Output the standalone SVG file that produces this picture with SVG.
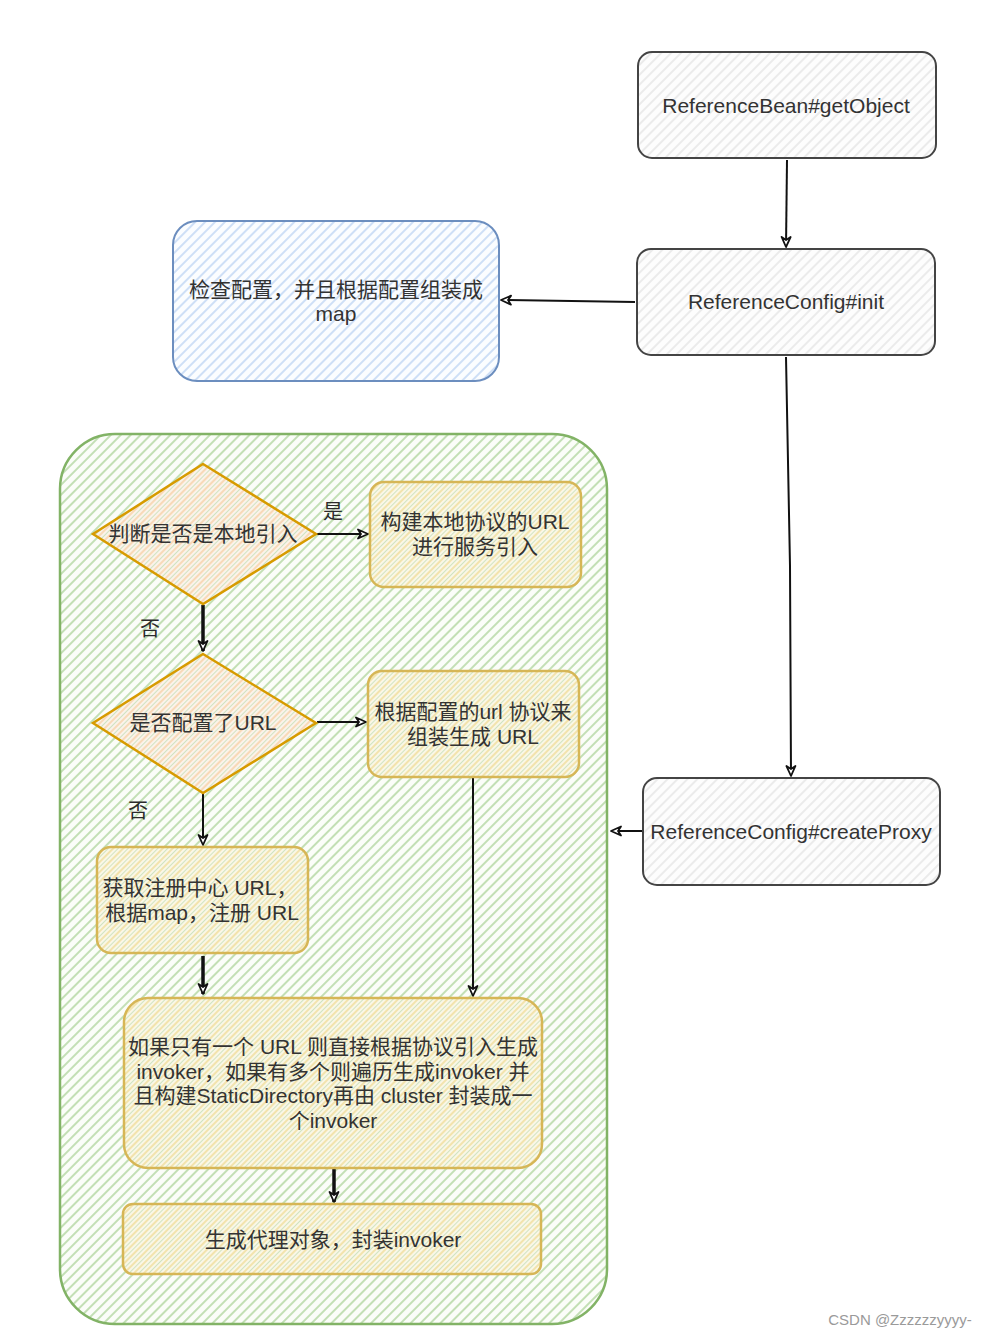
<svg xmlns="http://www.w3.org/2000/svg" width="984" height="1338" viewBox="0 0 984 1338">
<defs>
<style>
.t{font-family:"Liberation Sans","Noto Sans CJK SC",sans-serif;font-size:21px;fill:#333333;text-anchor:middle}
.gray{fill:url(#hGray);stroke:#444444;stroke-width:2}
.blue{fill:url(#hBlue);stroke:#6c8ebf;stroke-width:2}
.green{fill:url(#hGreen);stroke:#82b366;stroke-width:2.5}
.yel{fill:url(#hYel);stroke:#d6b656;stroke-width:2.5}
.dia{fill:url(#hOr);stroke:#d79b00;stroke-width:2.5}
.c{fill:none;stroke:#111;stroke-width:2;marker-end:url(#arr)}
.c3{fill:none;stroke:#111;stroke-width:3.5;marker-end:url(#arr)}
.lbl{font-family:"Noto Sans CJK SC","Liberation Sans",sans-serif;font-size:20px;fill:#2b2b2b;text-anchor:middle}
</style>
<pattern id="hGray" width="7" height="7" patternUnits="userSpaceOnUse" patternTransform="rotate(45)"><rect width="7" height="7" fill="#fdfdfd"/><line x1="1" y1="0" x2="1" y2="7" stroke="#e2e2e2" stroke-width="1.3"/></pattern>
<pattern id="hBlue" width="7" height="7" patternUnits="userSpaceOnUse" patternTransform="rotate(45)"><rect width="7" height="7" fill="#fbfdff"/><line x1="1" y1="0" x2="1" y2="7" stroke="#c9dcf5" stroke-width="1.8"/></pattern>
<pattern id="hGreen" width="7" height="7" patternUnits="userSpaceOnUse" patternTransform="rotate(45)"><rect width="7" height="7" fill="#fbfdf9"/><line x1="1" y1="0" x2="1" y2="7" stroke="#c3dfb5" stroke-width="2"/></pattern>
<pattern id="hYel" width="7" height="7" patternUnits="userSpaceOnUse" patternTransform="rotate(45)"><rect width="7" height="7" fill="#faf7e6"/><line x1="1" y1="0" x2="1" y2="7" stroke="#f2e3ad" stroke-width="2"/><line x1="4.5" y1="0" x2="4.5" y2="7" stroke="#cfe3c2" stroke-width="1"/></pattern>
<pattern id="hOr" width="7" height="7" patternUnits="userSpaceOnUse" patternTransform="rotate(45)"><rect width="7" height="7" fill="#fbf3ea"/><line x1="1" y1="0" x2="1" y2="7" stroke="#f8d9b8" stroke-width="2"/><line x1="4.5" y1="0" x2="4.5" y2="7" stroke="#cfe3c2" stroke-width="1"/></pattern>
<marker id="arr" viewBox="0 0 12 12" refX="11" refY="6" markerWidth="12" markerHeight="12" markerUnits="userSpaceOnUse" orient="auto">
<path d="M1,1.5 L11,6 L1,10.5 L4,6 Z" fill="#fff" stroke="#111" stroke-width="1.8" stroke-linejoin="round"/>
</marker>
</defs>
<rect width="984" height="1338" fill="#ffffff"/>

<g id="container">
<rect x="60" y="434" width="547" height="890" rx="55" class="green"/>
</g>

<g id="connectors">
<path class="c" d="M787,160 L786,247"/>
<path class="c" d="M635,302 L501,300"/>
<path class="c" d="M786,357 L790,566 L791,776"/>
<path class="c" d="M642,831 L611,831"/>
<path class="c" d="M317,534 L368,534"/>
<path class="c3" d="M203,605 L203,651"/>
<path class="c" d="M317,722 L366,722"/>
<path class="c" d="M203,794 L203,845"/>
<path class="c3" d="M203,956 L203,994"/>
<path class="c" d="M473,778 L473,996"/>
<path class="c3" d="M334,1169 L334,1202"/>
<text x="333" y="519" class="lbl">是</text>
<text x="150" y="636" class="lbl">否</text>
<text x="138" y="818" class="lbl">否</text>
</g>

<g id="n-getObject">
<rect x="638" y="52" width="298" height="106" rx="14" class="gray"/>
<text x="786" y="113" class="t">ReferenceBean#getObject</text>
</g>
<g id="n-init">
<rect x="637" y="249" width="298" height="106" rx="14" class="gray"/>
<text x="786" y="309" class="t">ReferenceConfig#init</text>
</g>
<g id="n-check">
<rect x="173" y="221" width="326" height="160" rx="24" class="blue"/>
<text x="336" y="297" class="t">检查配置，并且根据配置组装成</text>
<text x="336" y="321" class="t">map</text>
</g>
<g id="n-createProxy">
<rect x="643" y="778" width="297" height="107" rx="14" class="gray"/>
<text x="791" y="839" class="t">ReferenceConfig#createProxy</text>
</g>
<g id="n-isLocal">
<polygon points="203,464 316,534 203,604 93,534" class="dia"/>
<text x="203" y="541" class="t">判断是否是本地引入</text>
</g>
<g id="n-localUrl">
<rect x="370" y="482" width="211" height="105" rx="14" class="yel"/>
<text x="475" y="529" class="t">构建本地协议的URL</text>
<text x="475" y="554" class="t">进行服务引入</text>
</g>
<g id="n-hasUrl">
<polygon points="203,654 316,723 203,793 93,723" class="dia"/>
<text x="203" y="730" class="t">是否配置了URL</text>
</g>
<g id="n-buildUrl">
<rect x="368" y="671" width="211" height="106" rx="14" class="yel"/>
<text x="473" y="719" class="t">根据配置的url 协议来</text>
<text x="473" y="744" class="t">组装生成 URL</text>
</g>
<g id="n-registry">
<rect x="97" y="847" width="211" height="106" rx="14" class="yel"/>
<text x="200" y="895" class="t">获取注册中心 URL，</text>
<text x="202" y="920" class="t">根据map，注册 URL</text>
</g>
<g id="n-invoker">
<rect x="124" y="998" width="418" height="170" rx="24" class="yel"/>
<text x="333" y="1054" class="t">如果只有一个 URL 则直接根据协议引入生成</text>
<text x="333" y="1079" class="t">invoker，如果有多个则遍历生成invoker 并</text>
<text x="333" y="1103" class="t">且构建StaticDirectory再由 cluster 封装成一</text>
<text x="333" y="1128" class="t">个invoker</text>
</g>
<g id="n-proxy">
<rect x="123" y="1204" width="418" height="70" rx="10" class="yel"/>
<text x="333" y="1247" class="t">生成代理对象，封装invoker</text>
</g>
<text x="900" y="1325" style="font-family:'Liberation Sans',sans-serif;font-size:15px;fill:#9a9a9a;text-anchor:middle">CSDN @Zzzzzzyyyy-</text>
</svg>
